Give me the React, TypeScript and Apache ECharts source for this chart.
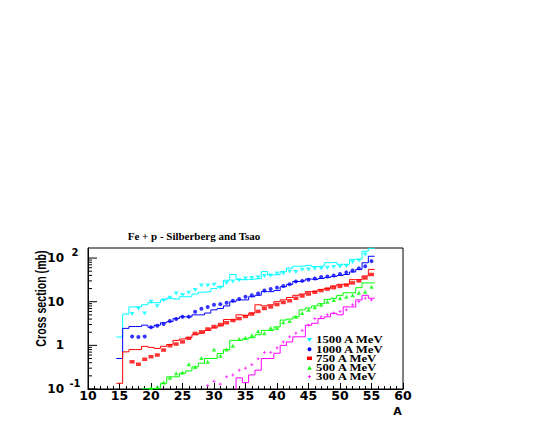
import React, { useEffect, useRef } from "react";
import * as echarts from "echarts";

// Mass number A of the fragment (bin centres)
const massNumbers = [15, 16, 17, 18, 19, 20, 21, 22, 23, 24, 25, 26, 27, 28, 29, 30, 31, 32, 33, 34, 35,
  36, 37, 38, 39, 40, 41, 42, 43, 44, 45, 46, 47, 48, 49, 50, 51, 52, 53, 54, 55];

// Histograms: Silberberg & Tsao formula (mb)
const hist1500 = [1.55, 5.2, 7.6, 7.6, 8.5, 9.5, 9.5, 11, 12, 11.5, 13, 13, 15, 16.5, 17, 20, 22, 31, 42, 32, 32,
  33, 34, 49, 41, 42, 49, 59, 65, 65, 68, 64, 66, 78, 80, 72, 72, 93, 95, 144, 168];
const hist1000 = [0.5, 2.45, 2.7, 2.7, 2.9, 2.6, 2.9, 3.3, 3.5, 4.1, 4.5, 4.5, 5.0, 5.0, 5.5, 6.5, 7, 8, 10, 11, 11,
  13, 14, 17, 17, 18, 22, 25, 29, 30, 33, 32, 34, 36, 38, 40, 42, 48, 55, 78, 110];
const hist750 = [0.135, 0.71, 0.8, 0.8, 0.95, 0.9, 0.85, 0.95, 1.05, 1.3, 1.4, 1.5, 1.75, 1.9, 2.2, 2.5, 2.8, 3.9, 3.8, 5.0, 4.8,
  5.5, 8.5, 8.0, 8.5, 10, 11, 12.5, 14, 15, 17, 17.5, 19, 20, 23, 25, 25, 32, 32, 39, 55];
const hist500 = [null, null, null, null, 0.101, 0.102, 0.105, 0.135, 0.19, 0.19, 0.23, 0.26, 0.32, 0.39, 0.5, 0.5, 0.65, 0.8, 1.3, 1.3, 1.4,
  1.5, 1.75, 2.2, 2.2, 2.65, 3.8, 4.0, 4.5, 6.5, 7.2, 8, 9, 11.3, 12, 14, 16, 16, 21, 27, 27];
const hist300 = [null, null, null, null, null, null, null, null, null, null, null, null, null, null, null, null, null, null, 0.05, 0.18, 0.14,
  0.21, 0.27, 0.5, 0.5, 0.66, 1.0, 1.2, 1.57, 1.57, 2.9, 3.2, 4.1, 4.5, 5.4, 5.0, 7.6, 7.6, 11, 14, 12];

// Measured points (mb)
const data1500 = [null, null, 5.2, 7.0, 5.4, 10, 7.9, 10.8, 12.3, 15.5, 14.2, 16, 18.5, 23.6, 23.6, 24.5, 21, 27, 29, 31, 34,
  35, 36, 39, 40, 44, 44, 49, 48, 54, 55, 57, 58, 60, 62, 63, 66, 80, 88, 120, null];
const data1000 = [null, null, 1.6, 1.55, 1.6, 2.6, 2.8, 3.1, 3.6, 4.0, 4.5, 4.5, 5.9, 6.9, 7.6, 8.5, 8.8, 9.5, 10.5, 11.5, 13,
  14, 15.5, 18, 19.5, 21, 23, 25, 29, 30, 32, 34, 37, 38, 40, 43, 47, 52, 58, 65, 85];
const data750 = [null, null, 0.42, 0.37, 0.48, 0.55, 0.6, 0.78, 0.98, 1.07, 1.2, 1.45, 1.88, 2.04, 2.37, 2.7, 3.0, 3.3, 3.7, 4.1, 4.6,
  5.2, 6.0, 7.0, 7.6, 8.6, 9.6, 10.5, 12, 13.5, 15, 16.5, 18, 19.5, 21, 22.5, 24, 27, 30, 35, 42];
const data500 = [null, null, null, null, null, 0.105, 0.11, 0.14, 0.18, 0.23, 0.24, 0.37, 0.32, 0.51, 0.42, 0.8, 0.58, 0.8, 0.98, 1.39, 1.5,
  1.7, 2.1, 1.9, 2.5, 2.5, 3.4, 3.6, 4.5, 5.5, 6.5, 7.5, 8.5, 10, 11, 12, 13, 14, 16, 17, 22];
const data300 = [null, null, null, null, null, null, null, null, null, null, null, null, null, null, 0.12, 0.15, 0.13, 0.19, 0.21, 0.27, 0.3,
  0.36, 0.49, 0.69, 0.69, 0.88, 1.2, 1.57, 1.9, 2.2, 2.9, 4.1, 4.5, 5.0, 5.5, 6.0, 6.5, 8.5, 10, 12, 11];

const energyNames = ["1500 A MeV", "1000 A MeV", "750 A MeV", "500 A MeV", "300 A MeV"];
const titleText = "Fe + p - Silberberg and Tsao";
const yTitleText = "Cross section (mb)";
const xTitleText = "A";

// Axis ticks
const xMin = 10;
const xMax = 60;
const xStep = 5;
const yMin = 0.1;
const yMax = 170;
const yTickValues = [0.1, 1, 10, 100];
const yTickMantissa = ["10", "1", "10", "10"];
const yTickExponent = ["-1", " ", " ", "2"];

const allHists = [hist1500, hist1000, hist750, hist500, hist300];
const allData = [data1500, data1000, data750, data500, data300];

// Styles
const colors = ["#00ffff", "#0000ff", "#ff0000", "#00ff00", "#ff00ff"];
const starPath = "path://M0,-3L0.9,-0.9L3,0L0.9,0.9L0,3L-0.9,0.9L-3,0L-0.9,-0.9Z";
const symbols = ["triangle", "circle", "rect", "triangle", starPath];
const symbolRotates = [180, 0, 0, 0, 0];
const symbolSizes: any[] = [[5, 4], 4, [5, 3.5], [4.5, 4], 4];

function histPoints(vals: (number | null)[]) {
  const pts: number[][] = [];
  let last: number[] | null = null;
  vals.forEach((v, i) => {
    if (v == null) return;
    pts.push([massNumbers[i] - 0.5, v]);
    last = [massNumbers[i] + 0.5, v];
  });
  if (last) pts.push(last);
  return pts;
}

function markerPoints(vals: (number | null)[]) {
  const pts: number[][] = [];
  vals.forEach((v, i) => {
    if (v != null) pts.push([massNumbers[i], v]);
  });
  return pts;
}

export default function App() {
  const ref = useRef<HTMLDivElement>(null);
  useEffect(() => {
    if (!ref.current) return;
    const chart = echarts.init(ref.current, null, { renderer: "svg" });

    const yTickMarks: number[][] = [];
    for (let d = -1; d <= 2; d++) {
      for (let k = 1; k <= 9; k++) {
        const v = k * Math.pow(10, d);
        if (v <= yMax) yTickMarks.push([xMin, v, k === 1 ? 1 : 0]);
      }
    }

    const series: any[] = [];
    allHists.forEach((h, i) => {
      series.push({
        type: "line",
        name: energyNames[i] + " calc",
        data: histPoints(h),
        step: "end",
        showSymbol: false,
        symbol: "none",
        clip: true,
        lineStyle: { color: colors[i], width: 1 },
        itemStyle: { color: colors[i] },
        z: 2,
      });
    });
    allData.forEach((d, i) => {
      series.push({
        type: "scatter",
        name: energyNames[i],
        data: markerPoints(d),
        symbol: symbols[i],
        symbolRotate: symbolRotates[i],
        symbolSize: symbolSizes[i],
        itemStyle: { color: colors[i] },
        clip: true,
        z: 3,
      });
    });
    series.push({
      type: "custom",
      name: "yticks",
      silent: true,
      data: yTickMarks,
      encode: { x: 0, y: 1 },
      clip: false,
      renderItem: (params: any, api: any) => {
        const p = api.coord([api.value(0), api.value(1)]);
        const len = api.value(2) ? 9 : 4;
        return {
          type: "line",
          shape: { x1: p[0], y1: p[1], x2: p[0] + len, y2: p[1] },
          style: { stroke: "#000", lineWidth: 1 },
        };
      },
      z: 4,
    });

    const legendRowsY = [340, 349.3, 358.3, 367.7, 376.7];
    const mx = 309.5;
    const legendMarkers: any[] = [
      { type: "polygon", shape: { points: [[mx - 2.5, legendRowsY[0] - 2], [mx + 2.5, legendRowsY[0] - 2], [mx, legendRowsY[0] + 2]] }, style: { fill: colors[0] } },
      { type: "circle", shape: { cx: mx, cy: legendRowsY[1], r: 2 }, style: { fill: colors[1] } },
      { type: "rect", shape: { x: mx - 2.5, y: legendRowsY[2] - 1.75, width: 5, height: 3.5 }, style: { fill: colors[2] } },
      { type: "polygon", shape: { points: [[mx - 2.25, legendRowsY[3] + 2], [mx + 2.25, legendRowsY[3] + 2], [mx, legendRowsY[3] - 2]] }, style: { fill: colors[3] } },
      { type: "polygon", shape: { points: [[mx, legendRowsY[4] - 2], [mx + 0.6, legendRowsY[4] - 0.6], [mx + 2, legendRowsY[4]], [mx + 0.6, legendRowsY[4] + 0.6], [mx, legendRowsY[4] + 2], [mx - 0.6, legendRowsY[4] + 0.6], [mx - 2, legendRowsY[4]], [mx - 0.6, legendRowsY[4] - 0.6]] }, style: { fill: colors[4] } },
    ];
    const legendTexts = energyNames.map((n, i) => ({
      type: "text",
      x: 316,
      y: legendRowsY[i],
      scaleX: 1.28,
      style: {
        text: n,
        fontSize: 10,
        fontWeight: "bold",
        fontFamily: "Liberation Serif",
        fill: "#000",
        align: "left",
        verticalAlign: "middle",
      },
      z: 10,
    }));

    const axisFont = "DejaVu Sans";

    chart.setOption({
      animation: false,
      backgroundColor: "#ffffff",
      grid: {
        left: 88,
        right: 142,
        top: 248,
        bottom: 47,
        show: true,
        borderColor: "#000",
        borderWidth: 1,
        backgroundColor: "transparent",
      },
      xAxis: {
        type: "value",
        min: xMin,
        max: xMax,
        interval: xStep,
        axisLine: { show: true, onZero: false, lineStyle: { color: "#000", width: 1 } },
        axisTick: { show: true, inside: true, length: 6, lineStyle: { color: "#000" } },
        minorTick: { show: true, splitNumber: 5, length: 3, lineStyle: { color: "#000" } },
        splitLine: { show: false },
        axisLabel: {
          margin: 1,
          color: "#000",
          fontSize: 12.5,
          fontWeight: "bold",
          fontFamily: axisFont,
          lineHeight: 10,
        },
      },
      yAxis: {
        type: "log",
        logBase: 10,
        min: yMin,
        max: yMax,
        axisLine: { show: true, onZero: false, lineStyle: { color: "#000", width: 1 } },
        axisTick: { show: false },
        splitLine: { show: false },
        axisLabel: {
          margin: 8,
          color: "#000",
          formatter: (v: number) => {
            const i = yTickValues.findIndex((t) => Math.abs(t - v) / t < 1e-6);
            if (i < 0) return "";
            return `{b|${yTickMantissa[i]}}{e|${yTickExponent[i]}}`;
          },
          rich: {
            b: { fontSize: 12, fontWeight: "bold", fontFamily: axisFont, color: "#000" },
            e: { fontSize: 10, fontWeight: "bold", fontFamily: axisFont, color: "#000", width: 10, padding: [0, 0, 12, 6], align: "left" },
          },
        },
      },
      graphic: [
        {
          type: "text",
          x: 194,
          y: 237,
          scaleX: 1.1,
          style: { text: titleText, fontSize: 10, fontWeight: "bold", fontFamily: "Liberation Serif", fill: "#000", align: "center", verticalAlign: "middle" },
        },
        {
          type: "text",
          x: 41,
          y: 298.5,
          rotation: Math.PI / 2,
          scaleX: 0.76,
          style: { text: yTitleText, fontSize: 14, fontWeight: "bold", fontFamily: "Liberation Sans", fill: "#000", align: "center", verticalAlign: "middle" },
        },
        {
          type: "text",
          x: 397.5,
          y: 411,
          style: { text: xTitleText, fontSize: 11, fontWeight: "bold", fontFamily: axisFont, fill: "#000", align: "center", verticalAlign: "middle", lineHeight: 10 },
        },
        ...legendMarkers,
        ...legendTexts,
      ],
      series,
    });
    return () => chart.dispose();
  }, []);

  return (
    <div
      ref={ref}
      style={{ position: "fixed", left: 0, top: 0, width: 545, height: 436, background: "#fff" }}
    />
  );
}
